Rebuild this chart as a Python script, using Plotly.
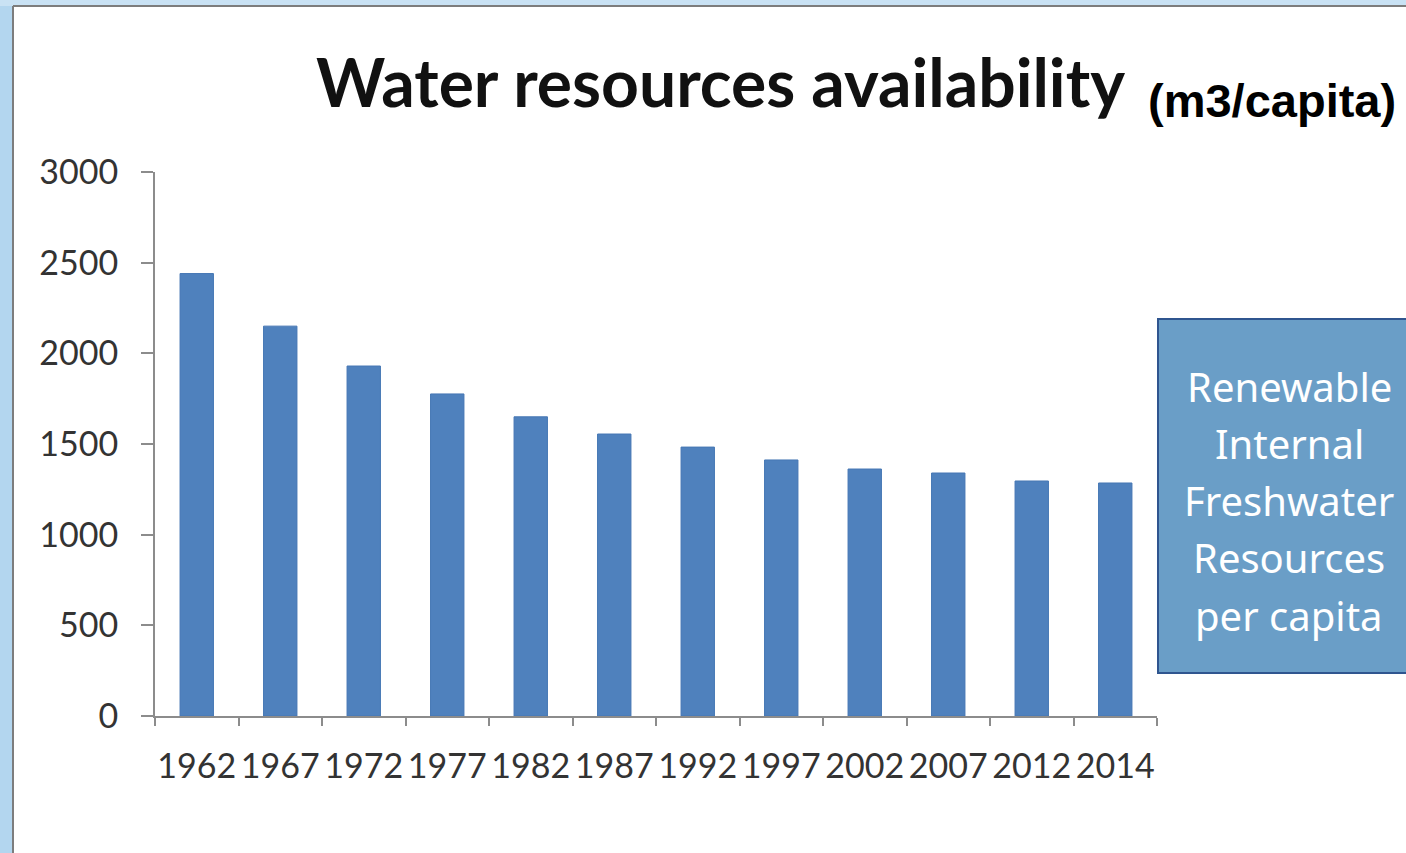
import plotly.graph_objects as go

years = ["1962", "1967", "1972", "1977", "1982", "1987", "1992", "1997", "2002", "2007", "2012", "2014"]
values = [2440, 2150, 1930, 1776, 1650, 1555, 1483, 1412, 1362, 1340, 1296, 1285]
y_ticks = [0, 500, 1000, 1500, 2000, 2500, 3000]
box_lines = ["Renewable", "Internal", "Freshwater", "Resources", "per capita"]

W, H = 1406, 853
L, R, T, B = 155, 1157, 172, 716
pw, ph = R - L, B - T

def px(x):
    return (x - L) / pw

def py(y):
    return (B - y) / ph

fig = go.Figure()
fig.add_trace(go.Bar(
    x=years, y=values,
    marker=dict(color="#4f81bd", line=dict(color="#4677b4", width=1)),
))

fig.update_layout(
    width=W, height=H,
    margin=dict(l=L, r=W - R, t=T, b=H - B),
    paper_bgcolor="white", plot_bgcolor="white",
    bargap=0.6, showlegend=False,
    xaxis=dict(type="category", showline=True, linecolor="#8c8c8c", linewidth=2,
               ticks="outside", tickson="boundaries", ticklen=8, tickcolor="#8c8c8c", tickwidth=2,
               tickangle=0, ticklabelstandoff=19,
               tickfont=dict(family="Lato", size=34, color="#333333"), showgrid=False, zeroline=False),
    yaxis=dict(range=[0, 3000], tickvals=y_ticks, showline=True, linecolor="#8c8c8c", linewidth=2,
               ticks="outside", ticklen=12, tickcolor="#8c8c8c", tickwidth=2, ticklabelstandoff=16,
               tickfont=dict(family="Lato", size=34, color="#333333"), showgrid=False, zeroline=False),
)

shapes = [
    # light blue page frame
    dict(type="rect", xref="paper", yref="paper", x0=px(0), x1=px(13), y0=py(H), y1=py(0),
         fillcolor="#b3d6ef", line=dict(width=0), layer="above"),
    dict(type="rect", xref="paper", yref="paper", x0=px(0), x1=px(W), y0=py(6), y1=py(0),
         fillcolor="#c9e2f4", line=dict(width=0), layer="above"),
    dict(type="line", xref="paper", yref="paper", x0=px(13), x1=px(13), y0=py(H), y1=py(6),
         line=dict(color="#7d7d7d", width=2), layer="above"),
    dict(type="line", xref="paper", yref="paper", x0=px(13), x1=px(W), y0=py(6), y1=py(6),
         line=dict(color="#7d7d7d", width=2), layer="above"),
    # info box
    dict(type="rect", xref="paper", yref="paper", x0=px(1158), x1=px(1410), y0=py(673), y1=py(319),
         fillcolor="#6a9ec7", line=dict(color="#2f558f", width=2), layer="above"),
]
fig.update_layout(shapes=shapes)

ann = [
    dict(text="<b>Water resources availability</b>", xref="paper", yref="paper",
         x=px(720), y=py(82), xanchor="center", yanchor="middle", showarrow=False,
         font=dict(family="Lato", size=66, color="#111111")),
    dict(text="<b>(m3/capita)</b>", xref="paper", yref="paper",
         x=px(1272), y=py(100), xanchor="center", yanchor="middle", showarrow=False,
         font=dict(family="Liberation Sans", size=47, color="#000000")),
]
line_y = [386, 443, 500, 557, 615]
for t, yy in zip(box_lines, line_y):
    ann.append(dict(text=t, xref="paper", yref="paper", x=px(1289), y=py(yy),
                    xanchor="center", yanchor="middle", showarrow=False,
                    font=dict(family="Noto Sans", size=40, color="white")))
fig.update_layout(annotations=ann)

fig.write_html("out.html")
